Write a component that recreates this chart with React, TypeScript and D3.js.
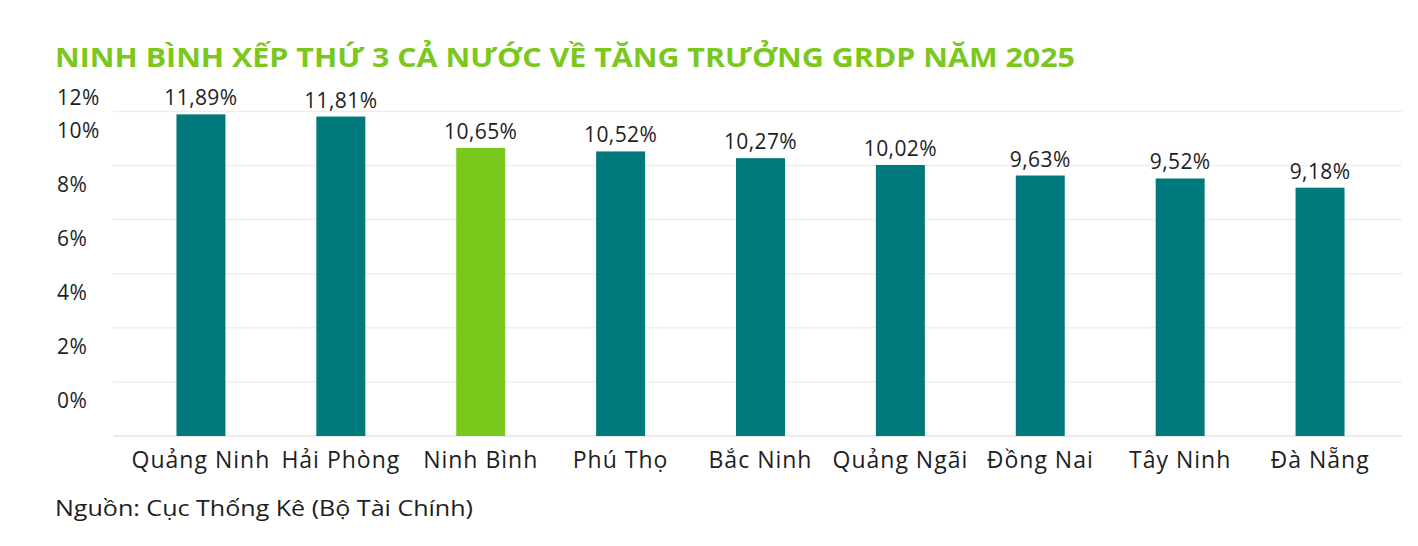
import React from "react";
import * as d3 from "d3";

const categories = ["Quảng Ninh", "Hải Phòng", "Ninh Bình", "Phú Thọ", "Bắc Ninh", "Quảng Ngãi", "Đồng Nai", "Tây Ninh", "Đà Nẵng"];
const values = [11.89, 11.81, 10.65, 10.52, 10.27, 10.02, 9.63, 9.52, 9.18];
const yTicks = [0, 2, 4, 6, 8, 10, 12];
const highlight = "Ninh Bình";
const title = "NINH BÌNH XẾP THỨ 3 CẢ NƯỚC VỀ TĂNG TRƯỞNG GRDP NĂM 2025";
const source = "Nguồn: Cục Thống Kê (Bộ Tài Chính)";

const W = 1418;
const H = 546;
const FONT = "'Open Sans', 'DejaVu Sans', sans-serif";
const TEAL = "#00797C";
const GREEN = "#7BC81C";
const INK = "#1e1e1e";

export default function App() {
  const x = d3.scaleBand<string>().domain(categories).range([131, 1390]).paddingInner(0.65).paddingOuter(0.325);
  const y = d3.scaleLinear().domain([0, 12]).range([436, 111.4]);
  const fmt = (v: number) => d3.format(".2f")(v).replace(".", ",") + "%";

  return (
    <svg width={W} height={H} style={{ position: "absolute", left: 0, top: 0, background: "#fff" }}>
      <rect width={W} height={H} fill="#fff" />
      <text x={55} y={67} fill={GREEN} fontFamily={FONT} fontWeight={700} fontSize={27} textLength={1020} lengthAdjust="spacingAndGlyphs">
        {title}
      </text>
      {yTicks.map((t) => (
        <line key={"g" + t} x1={113} x2={1402} y1={y(t)} y2={y(t)} stroke={t === 0 ? "#e3e3e3" : "#eeeeee"} strokeWidth={1.5} />
      ))}
      {yTicks.map((t) => (
        <text key={"l" + t} x={57} y={y(t) + (t === 12 ? -14 : -36)} dominantBaseline="central" fontFamily={FONT} fontSize={21} letterSpacing={0.5} fill={INK}>
          {t + "%"}
        </text>
      ))}
      {categories.map((c, i) => (
        <g key={c}>
          <rect x={x(c)} y={y(values[i])} width={x.bandwidth()} height={y(0) - y(values[i])} fill={c === highlight ? GREEN : TEAL} />
          <text x={(x(c) as number) + x.bandwidth() / 2} y={y(values[i]) - 9} textAnchor="middle" fontFamily={FONT} fontSize={21} letterSpacing={0.4} fill={INK}>
            {fmt(values[i])}
          </text>
          <text x={(x(c) as number) + x.bandwidth() / 2} y={468} textAnchor="middle" fontFamily={FONT} fontSize={23} letterSpacing={1} fill={INK}>
            {c}
          </text>
        </g>
      ))}
      <text x={55} y={516} fontFamily={FONT} fontSize={21} fill={INK} textLength={418} lengthAdjust="spacingAndGlyphs">
        {source}
      </text>
    </svg>
  );
}
